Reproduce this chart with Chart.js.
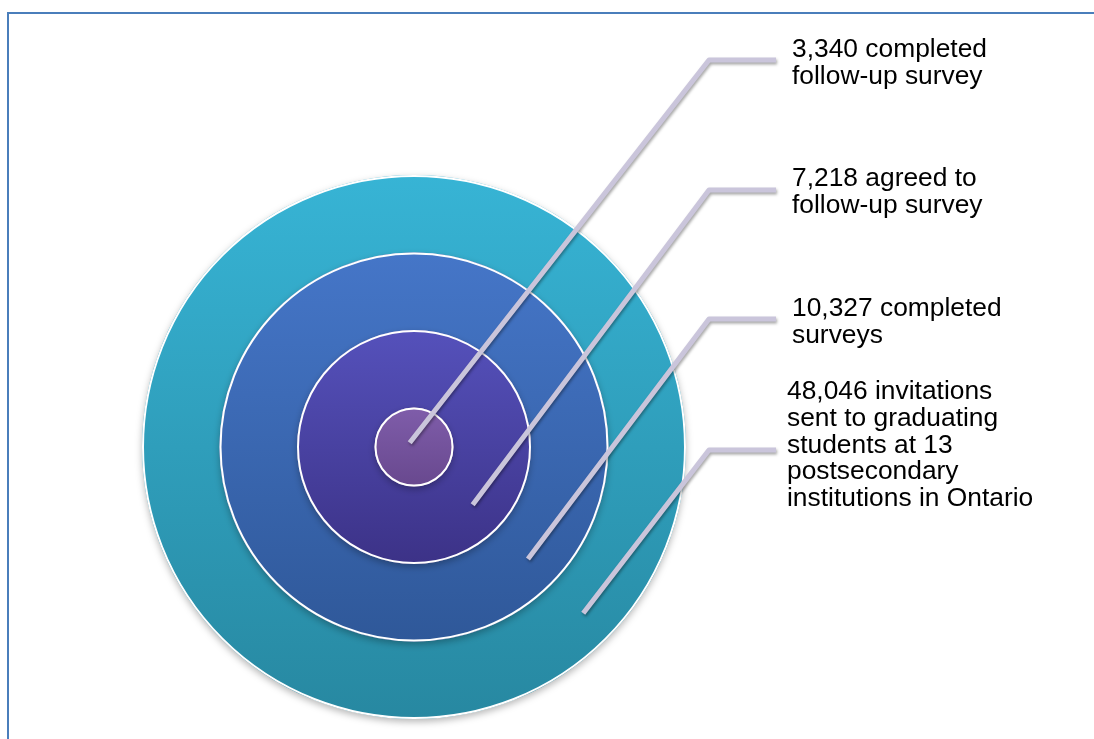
<!DOCTYPE html>
<html><head><meta charset="utf-8">
<script src="https://cdn.jsdelivr.net/npm/chart.js@4.4.1/dist/chart.umd.min.js"></script>
<style>html,body{margin:0;padding:0;background:#fff;overflow:hidden}#wrap{position:relative;width:1094px;height:739px}</style>
</head><body><div id="wrap"><canvas id="c"></canvas></div>
<script>
// ---- data (outermost stage first) ----
const stageCounts = [48046, 10327, 7218, 3340];
const stageLabels = [
  ['48,046 invitations', 'sent to graduating', 'students at 13', 'postsecondary', 'institutions in Ontario'],
  ['10,327 completed', 'surveys'],
  ['7,218 agreed to', 'follow-up survey'],
  ['3,340 completed', 'follow-up survey']
];

// ---- layout / style (not data) ----
const ringWeights = [77.5, 77.5, 77.5, 39.5];
const ringColors = [
  ['#37b4d5', '#2788a1'],
  ['#4576c8', '#2f5899'],
  ['#5551bb', '#3c3287'],
  ['#7f5daa', '#68488e']
];
const calloutLayout = [
  {kneeY: 450, textX: 787, baseY: 399},
  {kneeY: 319, textX: 792, baseY: 316},
  {kneeY: 190, textX: 792, baseY: 186},
  {kneeY: 60,  textX: 792, baseY: 57}
];
const KNEE_X = 709, LINE_END_X = 776, LINE_H = 26.8, TEXT_STRETCH = 1.055;

function ringGradient(c) {
  const chart = c.chart, ca = chart.chartArea;
  const cols = ringColors[c.datasetIndex];
  if (!ca) return cols[0];
  const ctrl = chart.getDatasetMeta(c.datasetIndex).controller;
  const r = ctrl.outerRadius || (ca.bottom - ca.top) / 2;
  const cy = (ca.top + ca.bottom) / 2;
  const g = chart.ctx.createLinearGradient(0, cy - r, 0, cy + r);
  g.addColorStop(0, cols[0]);
  g.addColorStop(1, cols[1]);
  return g;
}

const diagramPlugin = {
  id: 'diagram',
  beforeDraw(chart) {
    const ctx = chart.ctx;
    ctx.save();
    ctx.strokeStyle = '#4a7ebb';
    ctx.lineWidth = 2;
    ctx.beginPath();
    ctx.moveTo(8, chart.height + 2);
    ctx.lineTo(8, 13);
    ctx.lineTo(chart.width + 2, 13);
    ctx.stroke();
    ctx.restore();
  },
  beforeDatasetDraw(chart) {
    const ctx = chart.ctx;
    ctx.save();
    ctx.shadowColor = 'rgba(0,0,0,0.28)';
    ctx.shadowBlur = 7;
    ctx.shadowOffsetX = 0;
    ctx.shadowOffsetY = 3;
  },
  afterDatasetDraw(chart, args) {
    const ctx = chart.ctx;
    ctx.restore();
    const arc = args.meta.data[0];
    if (!arc) return;
    ctx.save();
    ctx.strokeStyle = '#ffffff';
    ctx.lineWidth = 2;
    ctx.beginPath();
    ctx.arc(arc.x, arc.y, arc.outerRadius - 1, 0, Math.PI * 2);
    ctx.stroke();
    ctx.restore();
  },
  afterDatasetsDraw(chart) {
    const ctx = chart.ctx;
    const ang = 44.5 * Math.PI / 180;
    stageLabels.forEach((lines, i) => {
      const arc = chart.getDatasetMeta(i).data[0];
      if (!arc) return;
      const lay = calloutLayout[i];
      const mid = (arc.innerRadius + arc.outerRadius) / 2;
      const d = arc.innerRadius < 1 ? -6 : mid + 4;
      const sx = arc.x + d * Math.cos(ang), sy = arc.y + d * Math.sin(ang);
      ctx.save();
      ctx.strokeStyle = '#cac5db';
      ctx.lineWidth = 5;
      ctx.lineCap = 'butt';
      ctx.lineJoin = 'round';
      ctx.shadowColor = 'rgba(0,0,0,0.35)';
      ctx.shadowBlur = 3;
      ctx.shadowOffsetX = 1;
      ctx.shadowOffsetY = 2;
      ctx.beginPath();
      ctx.moveTo(sx, sy);
      ctx.lineTo(KNEE_X, lay.kneeY);
      ctx.lineTo(LINE_END_X, lay.kneeY);
      ctx.stroke();
      ctx.restore();
      ctx.save();
      ctx.fillStyle = '#000000';
      ctx.font = '25px "Liberation Sans", Arial, sans-serif';
      ctx.textAlign = 'left';
      ctx.textBaseline = 'alphabetic';
      lines.forEach((t, k) => {
        ctx.save();
        ctx.translate(lay.textX, lay.baseY + k * LINE_H);
        ctx.scale(TEXT_STRETCH, 1);
        ctx.fillText(t, 0, 0);
        ctx.restore();
      });
      ctx.restore();
    });
  }
};

new Chart(document.getElementById('c'), {
  type: 'doughnut',
  data: {
    labels: ['stage'],
    datasets: stageCounts.map((v, i) => ({
      label: stageLabels[i].join(' '),
      data: [v],
      weight: ringWeights[i],
      order: stageCounts.length - i,
      clip: false,
      borderWidth: 0,
      backgroundColor: ringGradient,
      hoverBackgroundColor: ringGradient
    }))
  },
  options: {
    responsive: true,
    maintainAspectRatio: false,
    animation: false,
    events: [],
    cutout: 0,
    layout: {padding: {left: 142, right: 408, top: 175, bottom: 20}},
    plugins: {legend: {display: false}, tooltip: {enabled: false}, title: {display: false}}
  },
  plugins: [diagramPlugin]
});
</script>
</body></html>
